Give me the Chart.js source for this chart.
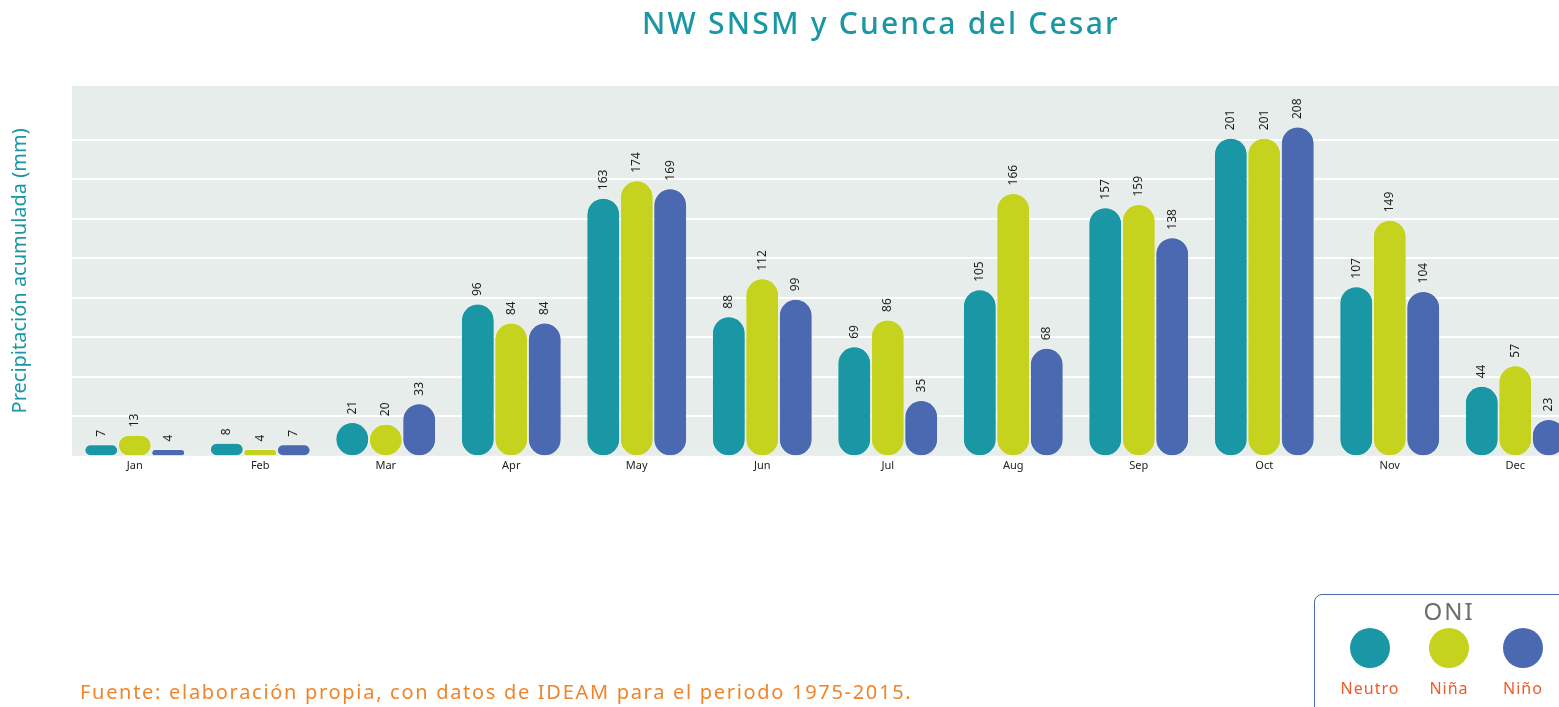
<!DOCTYPE html>
<html>
<head>
<meta charset="utf-8">
<script src="https://cdn.jsdelivr.net/npm/chart.js@4.4.1/dist/chart.umd.min.js"></script>
<style>
  html, body { margin: 0; padding: 0; background: #fff; overflow: hidden; }
  body { width: 1559px; height: 707px; position: relative; font-family: 'Noto Sans', sans-serif; }
  #wrap { position: absolute; left: 0; top: 0; width: 1580px; height: 707px; }
  #title { position: absolute; top: 2px; left: 0; width: 1762px; text-align: center; color: #1a97a4; font-size: 30px; font-weight: 500; letter-spacing: 2.2px; }
  #source { position: absolute; left: 80px; top: 678px; color: #ef852a; font-size: 20px; letter-spacing: 1.7px; }
  #legend { position: absolute; left: 1314px; top: 594px; width: 260px; height: 130px; border: 1px solid #4a69b0; border-radius: 8px; box-sizing: border-box; }
  #legend .head { position: absolute; top: -1px; left: 0; width: 268px; text-align: center; color: #6d6d6d; font-size: 24px; letter-spacing: 2px; }
  #legend .item { position: absolute; top: 33px; width: 80px; text-align: center; }
  #legend .dot { width: 40px; height: 40px; border-radius: 50%; margin: 0 auto; }
  #legend .lab { color: #f05a28; font-size: 16px; letter-spacing: 1px; margin-top: 9px; }
</style>
</head>
<body>
<div id="wrap"><canvas id="chart"></canvas></div>
<div id="title">NW SNSM y Cuenca del Cesar</div>
<div id="source">Fuente: elaboración propia, con datos de IDEAM para el periodo 1975-2015.</div>
<div id="legend"></div>
<script>
const months = ['Jan', 'Feb', 'Mar', 'Apr', 'May', 'Jun', 'Jul', 'Aug', 'Sep', 'Oct', 'Nov', 'Dec'];
const neutro = [7, 8, 21, 96, 163, 88, 69, 105, 157, 201, 107, 44];
const nina = [13, 4, 20, 84, 174, 112, 86, 166, 159, 201, 149, 57];
const nino = [4, 7, 33, 84, 169, 99, 35, 68, 138, 208, 104, 23];
const gridValues = [25, 50, 75, 100, 125, 150, 175, 200];

const seriesNames = ['Neutro', 'Niña', 'Niño'];
const seriesColors = ['#1a97a4', '#c6d31e', '#4a69b0'];

// legend box (ONI)
const legendBox = document.getElementById('legend');
legendBox.innerHTML = '<div class="head">ONI</div>';
const legendLeft = [15, 94, 168];
seriesNames.forEach((name, i) => {
  const item = document.createElement('div');
  item.className = 'item';
  item.style.left = legendLeft[i] + 'px';
  item.innerHTML = `<div class="dot" style="background:${seriesColors[i]}"></div><div class="lab">${name}</div>`;
  legendBox.appendChild(item);
});

const plotBackground = {
  id: 'plotBackground',
  beforeDraw(chart) {
    const { ctx, chartArea } = chart;
    ctx.save();
    ctx.fillStyle = '#e7edea';
    ctx.fillRect(chartArea.left, chartArea.top, chartArea.right - chartArea.left, chartArea.bottom - chartArea.top);
    ctx.restore();
  }
};

const valueLabels = {
  id: 'valueLabels',
  afterDatasetsDraw(chart) {
    const { ctx } = chart;
    ctx.save();
    ctx.fillStyle = '#1e1e1e';
    ctx.font = '12px "Noto Sans", sans-serif';
    ctx.textAlign = 'left';
    ctx.textBaseline = 'middle';
    chart.data.datasets.forEach((ds, di) => {
      chart.getDatasetMeta(di).data.forEach((bar, i) => {
        ctx.save();
        ctx.translate(bar.x, bar.y - 8);
        ctx.rotate(-Math.PI / 2);
        ctx.fillText(String(ds.data[i]), 0, 0);
        ctx.restore();
      });
    });
    ctx.restore();
  }
};

const datasets = [neutro, nina, nino].map((values, i) => ({
  label: seriesNames[i],
  data: values,
  backgroundColor: seriesColors[i],
  borderColor: '#ffffff',
  borderWidth: 0.5,
  borderRadius: 100,
  borderSkipped: false,
  barPercentage: 0.98,
  categoryPercentage: 0.8
}));

new Chart(document.getElementById('chart'), {
  type: 'bar',
  data: { labels: months, datasets },
  plugins: [plotBackground, valueLabels],
  options: {
    responsive: true,
    maintainAspectRatio: false,
    animation: false,
    layout: { padding: { top: 86, right: 2, bottom: 232, left: 8 } },
    plugins: {
      legend: { display: false },
      tooltip: { enabled: false }
    },
    scales: {
      x: {
        grid: { display: false, drawTicks: false },
        border: { display: false },
        ticks: { color: '#222', font: { size: 11, family: '"Noto Sans", sans-serif' }, padding: 3 }
      },
      y: {
        min: 0,
        max: 234,
        afterBuildTicks(scale) {
          scale.ticks = gridValues.map((v) => ({ value: v }));
        },
        grid: { color: '#ffffff', lineWidth: 2, drawTicks: false },
        border: { display: false },
        ticks: { display: false },
        title: {
          display: true,
          text: 'Precipitación acumulada (mm)',
          color: '#1a97a4',
          font: { size: 20, family: '"Noto Sans", sans-serif' },
          padding: { top: 0, bottom: 40 }
        }
      }
    }
  }
});
</script>
</body>
</html>
